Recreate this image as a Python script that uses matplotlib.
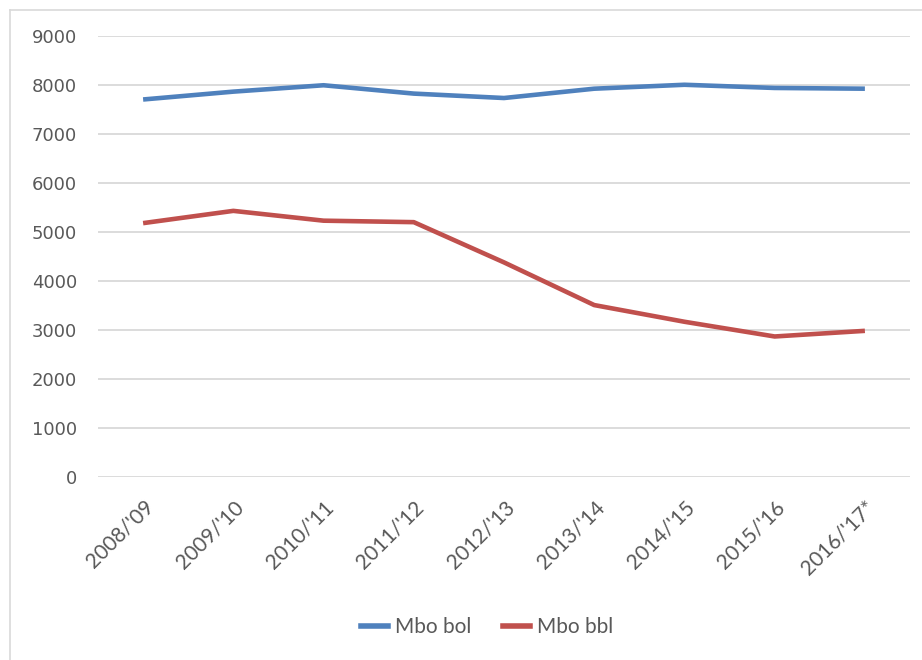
import matplotlib
matplotlib.use("Agg")
import matplotlib.pyplot as plt
from matplotlib.lines import Line2D

categories = ["2008/'09", "2009/'10", "2010/'11", "2011/'12", "2012/'13",
              "2013/'14", "2014/'15", "2015/'16", "2016/'17*"]
mbo_bol = [7700, 7860, 7990, 7820, 7730, 7920, 8000, 7935, 7920]
mbo_bbl = [5180, 5430, 5230, 5200, 4380, 3510, 3170, 2870, 2985]
yticks = [0, 1000, 2000, 3000, 4000, 5000, 6000, 7000, 8000, 9000]

W, H = 922, 660
fig = plt.figure(figsize=(W / 100, H / 100), dpi=100)
ax = fig.add_axes([98 / W, 1 - 477.3 / H, (910 - 98) / W, (477.3 - 35.7) / H])

x = list(range(len(categories)))
ax.plot(x, mbo_bol, color="#4F81BD", lw=3.3, solid_capstyle="butt", label="Mbo bol")
ax.plot(x, mbo_bbl, color="#C0504D", lw=3.3, solid_capstyle="butt", label="Mbo bbl")

ax.set_xlim(-0.5, len(categories) - 0.5)
ax.set_ylim(0, 9000)
ax.set_yticks(yticks)
ax.set_yticklabels([str(v) for v in yticks])
ax.yaxis.grid(True, color="#D9D9D9", lw=1.3)
ax.set_axisbelow(True)
for s in ax.spines.values():
    s.set_visible(False)
ax.tick_params(axis="y", length=0, pad=15, labelsize=13, labelcolor="#595959")
ax.tick_params(axis="x", length=0, pad=14)
ax.set_xticks(x)
ax.set_xticklabels(categories, rotation=45, ha="right", rotation_mode="anchor",
                   fontsize=15, color="#595959", family="Lato")
for lab in ax.get_yticklabels():
    lab.set_family("DejaVu Sans")

handles = [Line2D([], [], color="#4F81BD", lw=4), Line2D([], [], color="#C0504D", lw=4)]
fig.legend(handles, ["Mbo bol", "Mbo bbl"], loc="center", bbox_to_anchor=(487 / W, 1 - 627 / H),
           ncol=2, frameon=False, handlelength=1.3, handletextpad=0.35, columnspacing=1.5,
           prop={"family": "Lato", "size": 15}, labelcolor="#595959")

# outer chart border (left and top)
fig.add_artist(Line2D([10 / W, 10 / W], [0, 1 - 10 / H], transform=fig.transFigure,
                      color="#D9D9D9", lw=1.2))
fig.add_artist(Line2D([10 / W, 1], [1 - 10 / H, 1 - 10 / H], transform=fig.transFigure,
                      color="#D9D9D9", lw=1.2))

fig.savefig("out.png", dpi=100)
